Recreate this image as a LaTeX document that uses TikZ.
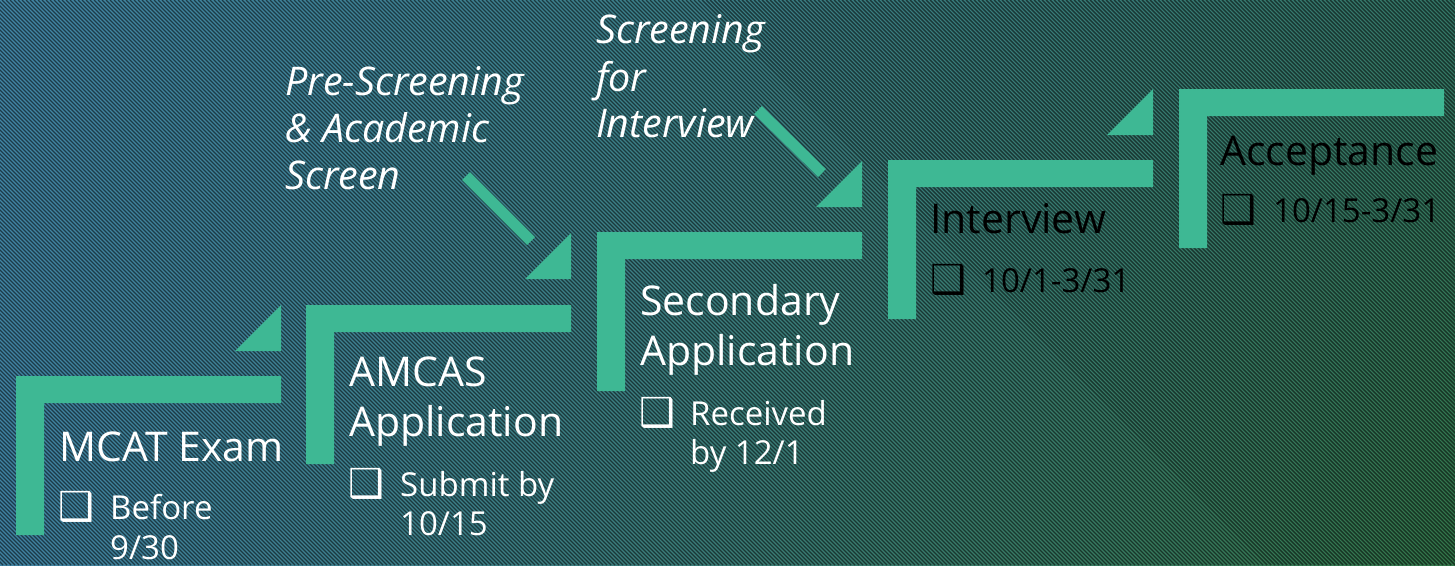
\documentclass[tikz,border=0pt]{standalone}
\usepackage{fontspec}
\usetikzlibrary{shadings}
\setmainfont{Open Sans}
\newfontfamily\dejavu{DejaVu Sans}
\definecolor{stepgreen}{HTML}{3EB894}
\definecolor{bgUL}{HTML}{4286A6}
\definecolor{bgUR}{HTML}{357868}
\definecolor{bgLL}{HTML}{4082A2}
\definecolor{bgLR}{HTML}{34764A}
\begin{document}
\begin{tikzpicture}[x=1pt,y=-1pt,
  stepshape/.style={fill=stepgreen,draw=none},
  linkbar/.style={draw=stepgreen,line width=11pt},
  ttl/.style={anchor=base west,inner sep=0pt,font=\fontsize{41}{48}\selectfont},
  sub/.style={anchor=base west,inner sep=0pt,font=\fontsize{33}{38}\selectfont},
  bul/.style={anchor=base west,inner sep=0pt,font=\dejavu\fontsize{40}{44}\selectfont},
  lbl/.style={anchor=base west,inner sep=0pt,font=\itshape\fontsize{39.5}{46}\selectfont,text=white},
  wt/.style={text=white},
  bk/.style={text=black}]
\useasboundingbox (0,0) rectangle (1455,565);
\shade[upper left=bgUL,upper right=bgUR,lower left=bgLL,lower right=bgLR] (0,0) rectangle (1455,565);
\begin{scope}
  \clip (0,0) rectangle (1455,565);
  \foreach \a in {-570,-566,...,1460}
    \draw[black,opacity=0.55,line width=1.4pt] (\a,0) -- ++(565,565);
\end{scope}
% steps (L shapes)
\foreach \x/\y in {16/376,306/305,597/232,888/160,1179/89}
  \fill[stepshape] (\x,\y) -- ++(265,0) -- ++(0,27) -- ++(-237,0) -- ++(0,132) -- ++(-28,0) -- cycle;
% triangles
\foreach \x/\y in {281/351,571/279,862/207,1153/135}
  \fill[stepshape] (\x,\y) -- ++(-46,0) -- ++(46,-46) -- cycle;
% link bars
\coordinate (b1s) at (466,176); \coordinate (b1e) at (531,241);
\coordinate (b2s) at (758,110); \coordinate (b2e) at (822,173);
\draw[linkbar] (b1s) -- (b1e);
\draw[linkbar] (b2s) -- (b2e);
% step 1
\node[ttl,wt] (t1) at (59,461) {MCAT Exam};
\node[bul,wt] (k1) at (58,520) {❑};
\node[sub,wt] (s1a) at (110,519) {Before};
\node[sub,wt] (s1b) at (110,559) {9/30};
% step 2
\node[ttl,wt] (t2a) at (349,386) {AMCAS};
\node[ttl,wt] (t2b) at (349,436) {Application};
\node[bul,wt] (k2) at (348,497) {❑};
\node[sub,wt] (s2a) at (400,496) {Submit by};
\node[sub,wt] (s2b) at (400,535) {10/15};
% step 3
\node[ttl,wt] (t3a) at (640,315) {Secondary};
\node[ttl,wt] (t3b) at (640,365) {Application};
\node[bul,wt] (k3) at (639,426) {❑};
\node[sub,wt] (s3a) at (690,425) {Received};
\node[sub,wt] (s3b) at (690,464) {by 12/1};
% step 4
\node[ttl,bk] (t4) at (930,233) {Interview};
\node[bul,bk] (k4) at (930,293) {❑};
\node[sub,bk] (s4) at (982,292) {10/1-3/31};
% step 5
\node[ttl,bk] (t5) at (1220,165) {Acceptance};
\node[bul,bk] (k5) at (1220,223) {❑};
\node[sub,bk] (s5) at (1273,222) {10/15-3/31};
% italic labels
\node[lbl] (p1) at (285,95) {Pre-Screening};
\node[lbl] (p2) at (285,142) {\& Academic};
\node[lbl] (p3) at (285,189) {Screen};
\node[lbl] (q1) at (596,43) {Screening};
\node[lbl] (q2) at (596,91) {for};
\node[lbl] (q3) at (596,137) {Interview};
\end{tikzpicture}
\end{document}
